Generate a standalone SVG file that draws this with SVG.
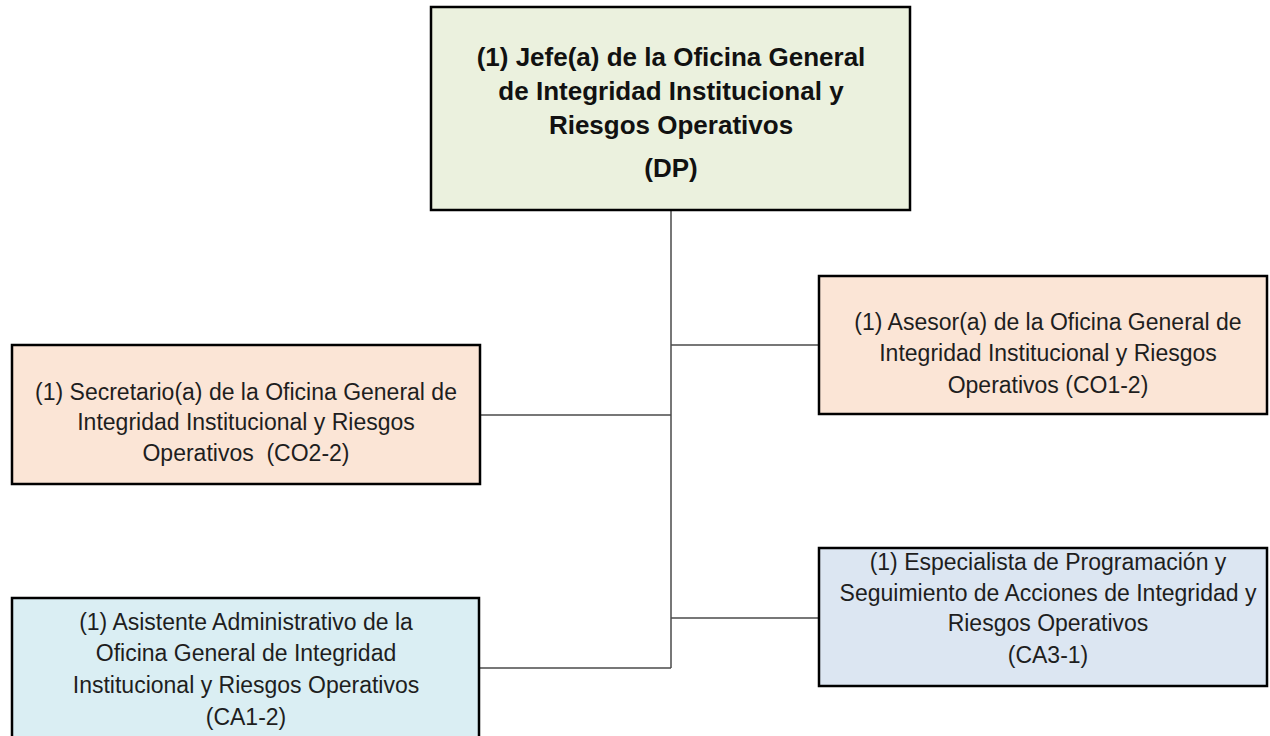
<svg xmlns="http://www.w3.org/2000/svg" width="1270" height="736" viewBox="0 0 1270 736">
<style>
.box{stroke:#000;stroke-width:2.5}
.t{font-family:"Liberation Sans",Arial,sans-serif;font-size:23px;fill:#1e1e1e;text-anchor:middle}
.tb{font-family:"Liberation Sans",Arial,sans-serif;font-size:26px;font-weight:bold;fill:#111;text-anchor:middle}
.c{stroke:#4a4a4a;stroke-width:1.5;fill:none}
</style>
<rect width="1270" height="736" fill="#fff"/>
<g id="connectors">
<line class="c" x1="671" y1="210" x2="671" y2="668"/>
<line class="c" x1="671" y1="345" x2="819" y2="345"/>
<line class="c" x1="480" y1="415" x2="671" y2="415"/>
<line class="c" x1="671" y1="618" x2="819" y2="618"/>
<line class="c" x1="479" y1="668" x2="671" y2="668"/>
</g>
<g id="jefe">
<rect class="box" x="431" y="7" width="479" height="203" fill="#EBF1DE"/>
<text class="tb" x="671" y="66">(1) Jefe(a) de la Oficina General</text>
<text class="tb" x="671" y="100">de Integridad Institucional y</text>
<text class="tb" x="671" y="134">Riesgos Operativos</text>
<text class="tb" x="671" y="177">(DP)</text>
</g>
<g id="secretario">
<rect class="box" x="12" y="345" width="468" height="139" fill="#FBE5D6"/>
<text class="t" x="246" y="400">(1) Secretario(a) de la Oficina General de</text>
<text class="t" x="246" y="430">Integridad Institucional y Riesgos</text>
<text class="t" x="246" y="461" xml:space="preserve">Operativos  (CO2-2)</text>
</g>
<g id="asesor">
<rect class="box" x="819" y="276" width="448" height="138" fill="#FBE5D6"/>
<text class="t" x="1048" y="330">(1) Asesor(a) de la Oficina General de</text>
<text class="t" x="1048" y="361">Integridad Institucional y Riesgos</text>
<text class="t" x="1048" y="393">Operativos (CO1-2)</text>
</g>
<g id="asistente">
<rect class="box" x="12" y="598" width="467" height="142" fill="#DAEEF3"/>
<text class="t" x="246" y="630">(1) Asistente Administrativo de la</text>
<text class="t" x="246" y="661">Oficina General de Integridad</text>
<text class="t" x="246" y="693">Institucional y Riesgos Operativos</text>
<text class="t" x="246" y="725">(CA1-2)</text>
</g>
<g id="especialista">
<rect class="box" x="819" y="548" width="448" height="138" fill="#DCE6F2"/>
<text class="t" x="1048" y="570">(1) Especialista de Programación y</text>
<text class="t" x="1048" y="601">Seguimiento de Acciones de Integridad y</text>
<text class="t" x="1048" y="631">Riesgos Operativos</text>
<text class="t" x="1048" y="663">(CA3-1)</text>
</g>
</svg>
